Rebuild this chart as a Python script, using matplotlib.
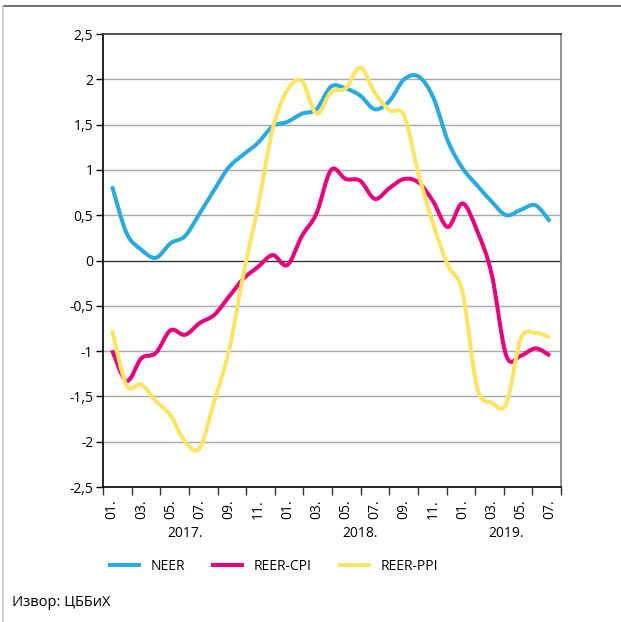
import numpy as np
import matplotlib.pyplot as plt
from matplotlib.path import Path
from matplotlib.patches import PathPatch
from matplotlib.lines import Line2D

plt.rcParams['font.family'] = ['Open Sans', 'DejaVu Sans']

# monthly values, Jan 2017 - Jul 2019
months = ['01.', '02.', '03.', '04.', '05.', '06.', '07.', '08.', '09.', '10.', '11.', '12.'] * 2 + \
         ['01.', '02.', '03.', '04.', '05.', '06.', '07.']
years = ['2017.', '2018.', '2019.']
year_pos = [5, 17, 27]

neer = [0.82, 0.30, 0.12, 0.03, 0.19, 0.27, 0.52, 0.78, 1.03, 1.17, 1.30, 1.48,
        1.53, 1.62, 1.67, 1.92, 1.90, 1.82, 1.67, 1.76, 2.00, 2.03, 1.80, 1.32,
        1.02, 0.83, 0.65, 0.50, 0.56, 0.61, 0.43]
reer_cpi = [-0.99, -1.33, -1.08, -1.02, -0.77, -0.82, -0.69, -0.60, -0.40, -0.20, -0.07, 0.06,
            -0.05, 0.27, 0.52, 1.00, 0.90, 0.88, 0.68, 0.80, 0.90, 0.86, 0.65, 0.37,
            0.63, 0.33, -0.15, -1.05, -1.05, -0.97, -1.05]
reer_ppi = [-0.77, -1.38, -1.37, -1.55, -1.71, -2.00, -2.07, -1.55, -1.00, -0.15, 0.60, 1.45,
            1.88, 1.98, 1.62, 1.86, 1.90, 2.13, 1.85, 1.66, 1.60, 0.95, 0.40, -0.05,
            -0.35, -1.40, -1.57, -1.58, -0.86, -0.80, -0.85]

series = [('NEER', neer, '#29abe2'),
          ('REER-CPI', reer_cpi, '#e6007e'),
          ('REER-PPI', reer_ppi, '#ffe463')]


def smooth_path(x, y):
    # Catmull-Rom through the points, drawn as cubic bezier segments
    pts = np.column_stack([x, y]).astype(float)
    ext = np.vstack([pts[0], pts, pts[-1]])
    verts = [pts[0]]
    codes = [Path.MOVETO]
    for i in range(1, len(ext) - 2):
        p0, p1, p2, p3 = ext[i - 1], ext[i], ext[i + 1], ext[i + 2]
        verts += [p1 + (p2 - p0) / 6, p2 - (p3 - p1) / 6, p2]
        codes += [Path.CURVE4] * 3
    return Path(verts, codes)


fig = plt.figure(figsize=(6.21, 6.22), dpi=100)
ax = fig.add_axes([0.1659, 0.2170, 0.7375, 0.7283])

x = np.arange(len(neer))
xmin, xmax = -0.62, 30.75

yt = np.arange(-2.5, 2.51, 0.5)
for v in yt[1:-1]:
    ax.axhline(v, color='#333333' if abs(v) < 1e-9 else '#a8a8a8', lw=1.0, zorder=1)

handles = []
for name, vals, col in series:
    ax.add_patch(PathPatch(smooth_path(x, vals), fill=False, edgecolor=col, lw=2.9,
                           capstyle='butt', joinstyle='round', zorder=3))
    handles.append(Line2D([], [], color=col, lw=2.9, label=name))

ax.set_xlim(xmin, xmax)
ax.set_ylim(-2.5, 2.5)

ax.set_yticks(yt)
ax.set_yticklabels([('%g' % v).replace('.', ',') for v in yt], fontsize=10)
ax.tick_params(axis='y', length=5, width=1, pad=2, color='black')

ax.set_xticks(np.arange(0, 31, 2))
ax.set_xticklabels(months[::2], rotation=90, fontsize=10)
ax.tick_params(axis='x', which='major', length=0, pad=9)
ax.set_xticks(np.linspace(xmin, xmax, 17), minor=True)
ax.tick_params(axis='x', which='minor', length=6, width=1, color='#333333')

for yl, yp in zip(years, year_pos):
    ax.text(yp, -0.102, yl, transform=ax.get_xaxis_transform(), ha='center', va='center', fontsize=10)

ax.spines['left'].set_color('black')
ax.spines['bottom'].set_color('black')
ax.spines['top'].set_color('#333333')
ax.spines['right'].set_color('#7f7f7f')
for s in ax.spines.values():
    s.set_linewidth(1.2)

fig.legend(handles=handles, loc='center left', bbox_to_anchor=(0.157, 0.09), ncol=3,
           frameon=False, fontsize=10, handlelength=2.1, handletextpad=0.8, columnspacing=2.05)

fig.text(0.019, 0.019, 'Извор: ЦББиХ', fontsize=10.5, ha='left', va='bottom')

# frame of the page around the chart
fig.add_artist(Line2D([0.005, 1.0], [0.99, 0.99], color='#555555', lw=1.2))
fig.add_artist(Line2D([0.005, 0.005], [0.0, 0.99], color='#c8c8c8', lw=1.2))

fig.savefig('out.png', dpi=100)
